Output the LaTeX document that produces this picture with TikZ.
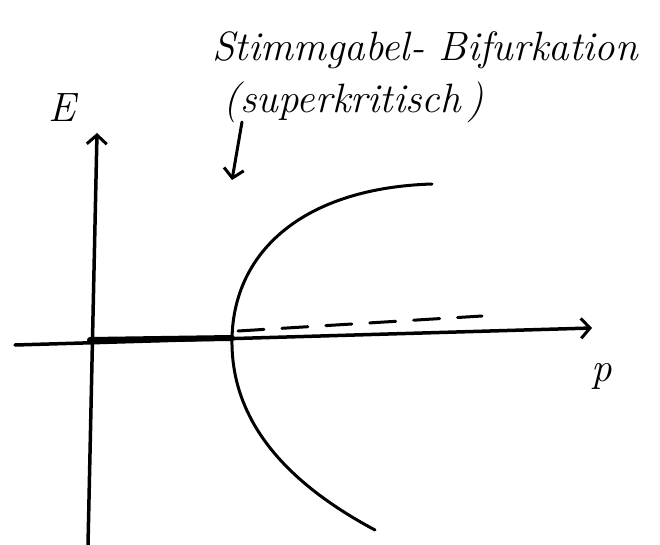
\documentclass[tikz,border=0pt]{standalone}
\usetikzlibrary{arrows.meta}
\begin{document}
\begin{tikzpicture}
  [x=1pt,y=-1pt,line cap=round,line join=round,
   every node/.style={inner sep=0pt,font=\fontsize{41}{48}\selectfont\itshape},
   axis/.style={line width=3.5pt,-{Straight Barb[length=9pt,width=20pt,line width=3pt]}},
   branch/.style={line width=3pt}]
  \useasboundingbox (0,0) rectangle (660,545);

  % Achsen
  \coordinate (xl) at (15,345);
  \coordinate (xr) at (592,328);
  \coordinate (yb) at (88,545);
  \coordinate (yt) at (97,133);
  \draw[axis] (xl) -- (xr);
  \draw[axis] (yb) -- (yt);
  \node (E) at (62,108) {E};
  \node (p) at (602,376) {p};

  % Verzweigungspunkt und Aeste
  \coordinate (o) at (90,340);
  \coordinate (v) at (232,338);
  \coordinate (top) at (432,184);
  \coordinate (bot) at (375,530);
  \coordinate (dr) at (482,316);
  \draw[line width=6pt] (o) -- (v);
  \draw[branch] (top) .. controls (305,188) and (234,250) .. (v)
                      .. controls (230,430) and (300,490) .. (bot);
  \draw[branch,dash pattern=on 26pt off 18pt] (v) ++(6,-7) coordinate (dl) (dl) -- (dr);

  % Beschriftung
  \node (t1) at (425,50) {Stimmgabel- Bifurkation};
  \node (t2) at (354,102) {(superkritisch\,)};
  \coordinate (a1) at (242,122);
  \coordinate (a2) at (232,180);
  \draw[line width=3pt,-{Straight Barb[length=9pt,width=20pt,line width=3pt]}] (a1) -- (a2);
\end{tikzpicture}
\end{document}
